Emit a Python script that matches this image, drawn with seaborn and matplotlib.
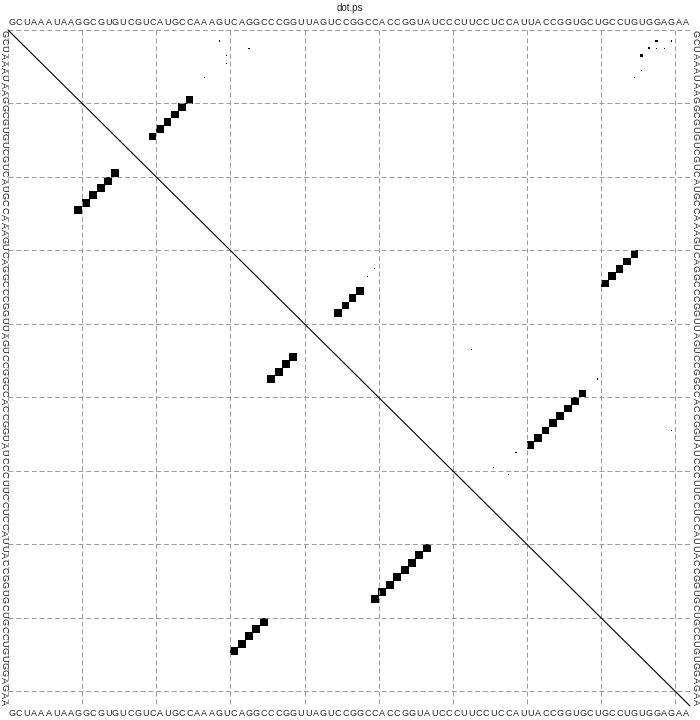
import numpy as np
import pandas as pd
import matplotlib
matplotlib.use("Agg")
import matplotlib.pyplot as plt
import seaborn as sns

# --- DATA ---
# RNA sequence (92 nt)
SEQ_CHUNKS = ["GCUAAAUAAG", "GCGUGUCGUC", "AUGCCAAAGU", "CAGGCCCGGU", "UAGUCCGGCC",
              "ACCGGUAUCC", "CUUCCUCCAU", "UACCGGUGCU", "GCCUGUGGAG", "AA"]
sequence = "".join(SEQ_CHUNKS)

# MFE base pairs (lower-left triangle)
mfe_i = [10, 11, 12, 13, 14, 15, 31, 32, 33, 34, 35, 36, 37, 38, 39,
         50, 51, 52, 53, 54, 55, 56, 57]
mfe_j = [25, 24, 23, 22, 21, 20, 85, 84, 83, 82, 81, 48, 47, 46, 45,
         78, 77, 76, 75, 74, 73, 72, 71]

# pair probabilities (upper-right triangle)
mfe_p = [0.97, 0.99, 0.99, 0.99, 0.99, 0.97, 0.96, 0.98, 0.98, 0.98, 0.96,
         0.92, 0.95, 0.95, 0.92, 0.95, 0.97, 0.98, 0.98, 0.98, 0.98, 0.97, 0.95]
extra_i = [2, 2, 3, 3, 3, 4, 6, 7, 2, 3, 4, 5, 7, 48, 58, 34, 33,
           59, 60, 61, 44, 20, 25, 40, 45, 55, 65, 84, 1, 2, 16, 9, 64, 66]
extra_j = [88, 90, 87, 88, 89, 86, 86, 85, 29, 33, 30, 30, 27, 80, 69, 49, 50,
           67, 66, 68, 63, 89, 91, 90, 88, 90, 91, 89, 41, 9, 29, 14, 84, 86]
extra_p = [0.10, 0.03, 0.08, 0.02, 0.02, 0.12, 0.01, 0.02, 0.02, 0.05, 0.02, 0.015, 0.01,
           0.03, 0.06, 0.02, 0.015, 0.006, 0.008, 0.005, 0.004, 0.006, 0.005, 0.006,
           0.004, 0.005, 0.004, 0.008, 0.004, 0.006, 0.004, 0.004, 0.005, 0.004]

# --- PLOT ---
sns.set_theme(style="white")
plt.rcParams['font.family'] = ['Liberation Sans', 'DejaVu Sans']

n = len(sequence)
fig = plt.figure(figsize=(7, 7.2), dpi=100)
ax = fig.add_axes([8 / 700, 1 - 706 / 720, 682 / 700, 676 / 720])

# dashed grid every 10 nt
for k in range(0, n, 10):
    pos = k + 0.5
    ax.plot([pos, pos], [0.5, n + 0.5], color='0.6', lw=0.7, dashes=(5, 3), clip_on=False)
    ax.plot([0.5, n + 0.5], [pos, pos], color='0.6', lw=0.7, dashes=(5, 3), clip_on=False)

ax.plot([0.5, n + 0.5], [0.5, n + 0.5], color='black', lw=0.8, clip_on=False)

# upper triangle: probabilities (area ~ p)
upper = pd.DataFrame({'i': mfe_i + extra_i, 'j': mfe_j + extra_j, 'p': mfe_p + extra_p})
sns.scatterplot(data=upper, x='j', y='i', size='p', sizes=(0, 31), size_norm=(0, 1),
                marker='s', color='black', linewidth=0, legend=False, ax=ax)

# lower triangle: MFE structure
lower = pd.DataFrame({'i': mfe_i, 'j': mfe_j})
sns.scatterplot(data=lower, x='i', y='j', marker='s', s=30, color='black',
                linewidth=0, legend=False, ax=ax)

# sequence along all four sides
for k, ch in enumerate(sequence, start=1):
    ax.text(k, -0.5, ch, ha='center', va='center', fontsize=6.5, color='#222222')
    ax.text(k, n + 1.5, ch, ha='center', va='center', fontsize=6.5, color='#222222')
    ax.text(-0.05, k, ch, ha='center', va='center', fontsize=6.5, rotation=-90, color='#222222')
    ax.text(n + 1.2, k, ch, ha='center', va='center', fontsize=6.5, rotation=-90, color='#222222')

ax.set_xlim(0.5, n + 0.5)
ax.set_ylim(n + 0.5, 0.5)
ax.axis('off')

fig.text(0.5, 1 - 8 / 720, 'dot.ps', ha='center', va='center', fontsize=7)

fig.savefig('out.png', dpi=100)
